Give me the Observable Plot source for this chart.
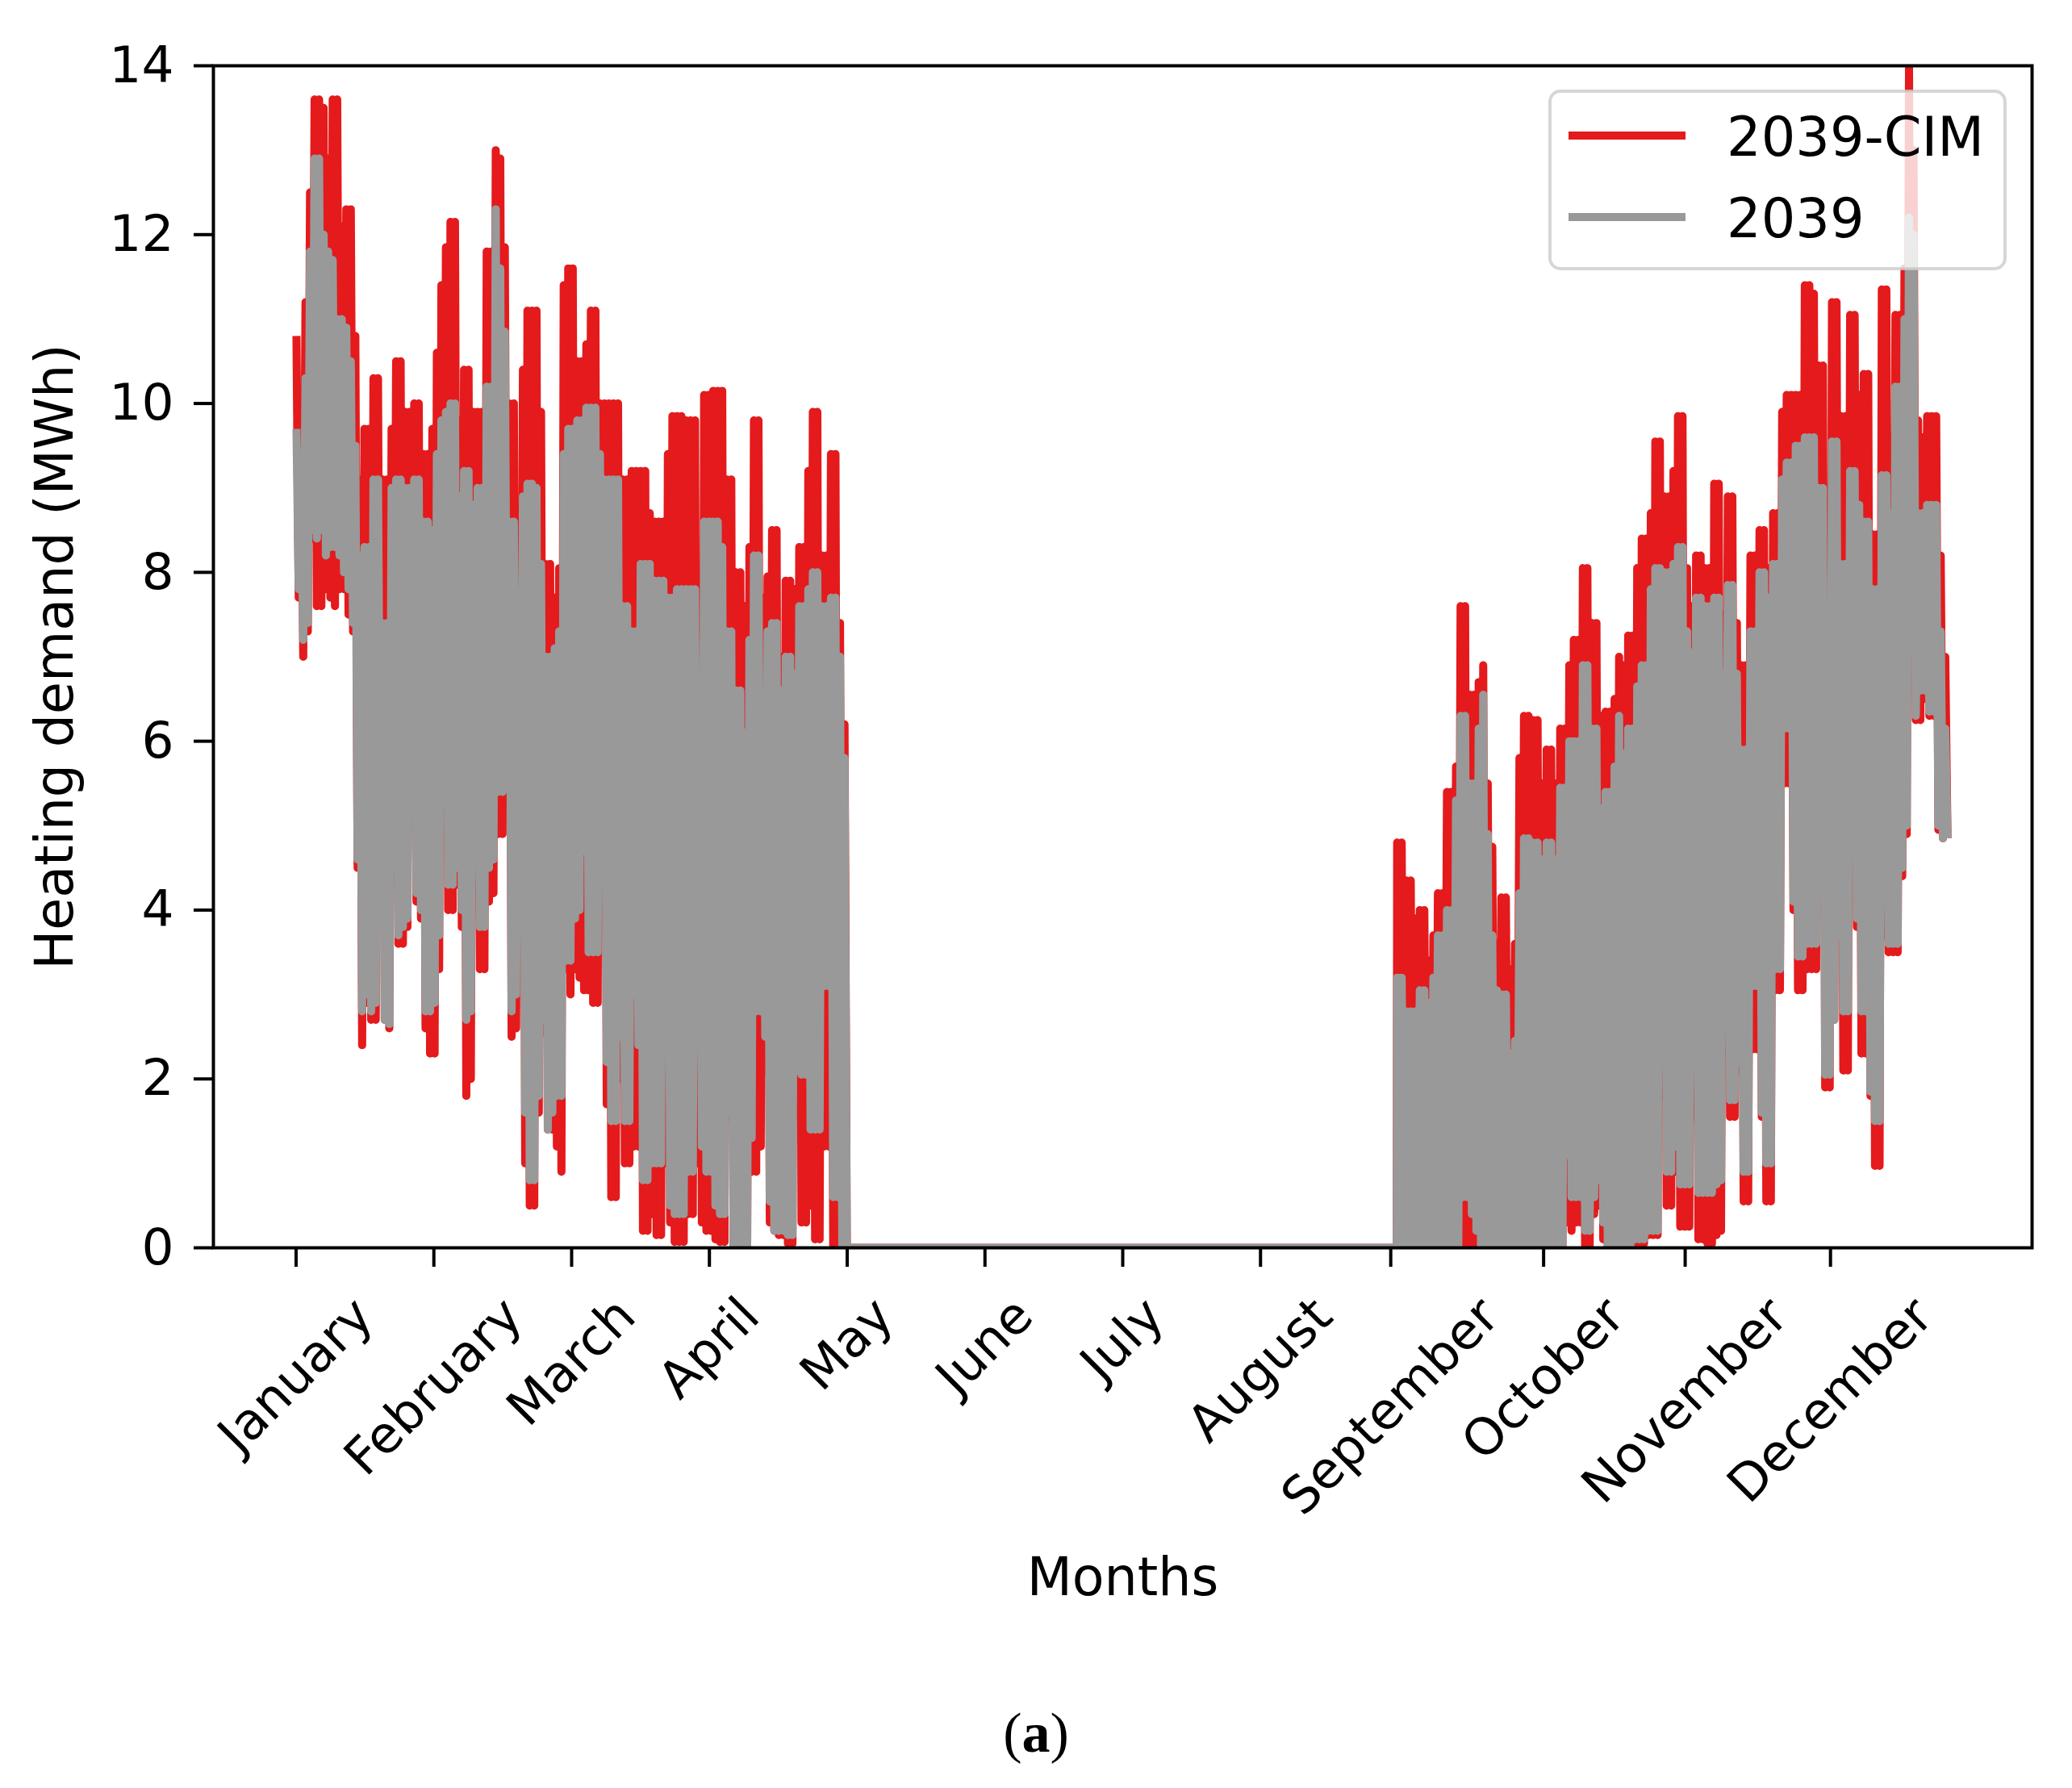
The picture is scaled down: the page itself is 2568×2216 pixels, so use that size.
<!DOCTYPE html>
<html>
<head>
<meta charset="utf-8">
<script src="https://cdn.jsdelivr.net/npm/d3@7"></script>
<script src="https://cdn.jsdelivr.net/npm/@observablehq/plot@0.6"></script>
<style>
  html, body { margin: 0; padding: 0; background: #fff; }
  #chart svg { display: block; }
  #caption { width: 2568px; height: 156px; text-align: center; font-family: "Liberation Serif", serif; font-size: 70px; line-height: 70px; padding-top: 53px; box-sizing: border-box; color: #000; }
</style>
</head>
<body>
<div id="chart"></div>
<div id="caption">(<b>a</b>)</div>
<script>
// ---- Data: daily envelope of hourly heating demand (MWh) ----
const seriesNames = ["2039-CIM", "2039"];
const seriesColors = ["#e41a1c", "#999999"];
const months = ["January","February","March","April","May","June","July","August","September","October","November","December"];
const monthTickHours = [0, 730, 1460, 2190, 2920, 3650, 4380, 5110, 5800, 6610, 7360, 8130];
const yTicks = [0, 2, 4, 6, 8, 10, 12, 14];

// Heating season 1: day 0 .. 121
const leftStartDay = 0;
const leftCimMax = [10.8,10.0,11.2,12.5,13.6,13.6,13.5,12.9,13.6,13.6,
 12.1,12.3,12.3,10.8,9.1,9.7,9.7,10.3,10.3,9.1,
 9.1,9.7,10.5,10.5,9.9,9.9,10.0,10.0,9.4,9.4,
 9.7,10.6,11.4,11.85,12.15,12.15,9.8,10.4,10.4,9.9,
 9.9,9.9,11.8,11.8,13.0,12.9,11.85,10.0,10.0,8.5,
 10.4,11.1,11.1,11.1,9.9,8.1,8.1,7.7,8.05,11.4,
 11.6,11.6,10.5,10.5,10.7,11.1,11.1,10.0,10.0,10.0,
 10.0,10.0,9.1,9.1,9.2,9.2,9.2,9.2,8.7,8.6,
 8.6,8.6,9.4,9.85,9.85,9.85,9.8,9.8,9.8,7.2,
 10.1,10.1,10.15,10.15,10.15,9.1,9.1,8.0,8.0,7.6,
 8.3,9.8,9.8,7.7,7.95,8.5,8.5,7.0,7.9,7.9,
 7.8,8.3,8.3,9.2,9.9,9.9,8.2,8.2,9.4,9.4,
 7.4,6.2];
const leftCimMin = [7.7,7.0,7.3,8.4,7.6,7.6,7.8,7.7,7.6,7.8,
 7.8,7.5,7.3,4.5,2.4,2.9,2.7,2.7,4.9,2.7,
 2.6,4.4,3.6,3.6,3.8,5.3,4.1,3.9,2.6,2.3,
 2.3,3.3,5.7,4.0,4.0,4.3,3.8,1.8,2.0,4.5,
 3.3,3.3,4.1,4.2,4.9,4.9,5.5,2.5,2.6,4.6,
 1.0,0.5,0.5,1.6,2.55,1.4,1.4,1.2,0.9,3.3,
 3.0,3.3,3.2,3.05,3.05,2.9,2.9,5.1,1.7,0.6,
 0.6,2.0,1.0,1.0,1.2,1.2,0.2,0.2,0.4,0.15,
 0.15,1.0,0.3,0.07,0.07,0.07,0.4,0.4,1.0,0.3,
 0.2,0.2,0.1,0.07,0.07,1.55,0.0,0.0,0.0,0.0,
 0.9,0.9,1.2,2.1,0.3,0.2,0.15,0.15,0.05,0.05,
 1.55,0.3,0.3,0.5,0.1,0.1,1.2,1.2,0.0,0.0,
 0.0,0.0];
const leftRefMax = [9.7,9.4,10.3,11.8,12.9,12.9,12.0,11.8,11.7,11.0,
 11.0,10.9,10.5,9.5,8.2,8.3,8.3,9.1,9.1,7.4,
 7.4,9.0,9.1,9.1,9.0,9.0,9.1,9.1,8.6,8.6,
 8.5,9.4,9.8,9.9,10.0,10.0,8.9,9.2,9.2,8.8,
 9.0,9.0,10.2,10.2,12.3,11.6,10.85,8.6,8.6,7.7,
 8.9,9.05,9.05,9.0,8.1,7.0,7.0,7.1,7.3,9.4,
 9.7,9.7,9.8,9.8,9.95,9.95,9.95,9.4,9.1,9.1,
 9.1,9.1,7.6,7.6,7.3,7.3,8.1,8.1,8.1,7.9,
 7.9,7.9,7.7,7.7,7.8,7.8,7.8,7.8,7.8,6.5,
 8.6,8.6,8.6,8.6,8.3,7.3,7.3,6.6,6.6,6.1,
 7.2,8.2,8.2,6.4,7.3,7.4,7.4,6.6,7.0,7.0,
 6.8,7.6,7.6,7.8,8.0,8.0,7.6,7.6,7.7,7.7,
 7.0,5.8];
const leftRefMin = [7.8,7.2,7.4,8.5,8.4,8.5,8.2,8.3,8.3,8.2,
 8.0,7.8,7.4,4.6,2.8,3.0,2.8,2.9,5.0,2.7,
 2.65,4.5,3.7,3.8,3.9,6.3,4.2,4.0,2.8,2.8,
 2.9,3.7,6.0,4.3,4.3,4.5,4.0,2.7,2.8,5.3,
 3.8,3.8,4.5,4.6,5.4,5.4,6.0,2.8,3.0,5.0,
 1.6,0.8,0.8,1.8,2.7,1.4,1.6,1.8,1.8,3.4,
 3.4,3.9,4.0,4.7,3.5,3.5,3.5,5.9,2.2,1.5,
 1.5,2.5,1.5,1.5,3.0,2.4,0.8,0.8,1.0,1.0,
 1.0,2.8,0.5,0.4,0.4,0.4,0.9,0.9,2.6,1.2,
 0.9,0.9,0.5,0.4,0.4,1.6,0.0,0.0,0.0,0.0,
 1.3,2.8,2.8,2.5,0.55,0.2,0.2,0.2,0.15,0.15,
 2.1,2.05,2.05,1.4,1.4,1.4,3.1,3.1,0.6,0.6,
 0.0,0.0];

// Heating season 2: day 243 .. 364
const rightStartDay = 243;
const rightCimMax = [4.8,4.8,4.35,4.35,3.9,4.0,4.0,3.4,3.7,4.2,
 4.2,5.4,5.4,5.7,7.6,7.6,6.55,6.55,6.7,6.9,
 5.5,4.75,3.6,4.15,4.15,3.3,3.6,5.8,6.3,6.3,
 6.25,6.25,5.5,5.9,5.9,5.5,6.15,6.15,6.9,7.2,
 7.2,8.05,8.05,7.4,7.4,6.3,6.35,6.35,6.5,7.0,
 6.9,7.25,7.25,8.05,8.4,8.4,8.7,9.55,9.55,8.9,
 8.9,9.2,9.85,9.85,8.05,7.6,8.2,8.2,8.05,8.05,
 9.05,9.05,7.5,8.9,8.9,7.4,6.9,6.9,8.2,8.2,
 8.5,8.5,8.05,8.7,8.7,9.9,10.1,10.1,10.1,10.1,
 11.4,11.4,11.3,10.45,10.45,7.8,11.2,11.2,9.85,9.85,
 11.05,11.05,10.1,10.35,10.35,8.45,8.45,11.35,11.35,9.6,
 11.05,11.05,11.6,14.0,13.0,9.8,9.6,9.85,9.85,9.85,
 8.2,7.0];
const rightCimMin = [0,0,0,0,0,0,0,0,0,0,
 0,0,0,0,0,0,0,0,0,0,
 0,0,0,0,0,0,0,0,0,0,
 0,0,0,0,0,0,0,0.3,0.2,0.3,
 0.3,0,0,0.4,0.5,0.1,0,0,0,0,
 0,0,0.05,0.05,0.05,0.15,0.15,0.15,1.8,0.5,
 0.5,0.9,0.25,0.25,0.25,1.55,0.1,0.1,0.05,0.05,
 0.15,0.2,2.3,1.55,1.55,2.1,0.55,0.55,2.35,2.35,
 1.55,0.55,0.55,3.05,3.05,5.5,5.5,4.0,3.05,3.05,
 3.3,3.3,3.3,5.0,1.9,1.9,2.7,3.7,2.1,2.1,
 5.6,3.8,2.3,2.3,1.8,0.97,0.97,3.7,3.5,3.5,
 3.5,4.4,4.9,7.7,6.25,6.25,6.5,6.3,6.3,4.95,
 4.85,4.85];
const rightRefMax = [3.2,3.2,2.8,2.8,2.8,3.05,3.05,2.9,3.2,3.7,
 3.7,4.0,4.0,5.3,6.3,6.3,5.5,5.5,6.15,6.55,
 4.9,3.7,3.05,3.0,3.0,2.3,2.45,4.2,4.85,4.85,
 4.8,4.8,4.6,4.8,4.8,4.6,5.45,5.45,6.0,6.0,
 6.0,6.9,6.9,6.15,6.15,5.2,5.4,5.4,5.7,6.3,
 5.85,6.15,6.15,6.65,6.9,6.9,7.8,8.05,8.05,8.0,
 8.0,8.1,8.3,8.3,7.3,7.05,7.7,7.7,7.6,7.6,
 7.7,7.7,6.8,7.85,7.85,6.8,5.9,5.9,7.3,7.3,
 8.0,8.0,7.7,8.1,8.1,9.1,9.3,9.3,9.5,9.5,
 9.6,9.6,9.6,9.0,9.0,7.5,9.55,9.55,8.1,8.1,
 9.2,9.2,8.8,8.6,8.6,7.8,7.8,9.15,9.15,8.7,
 10.2,10.2,11.0,12.2,12.0,8.7,8.7,8.8,8.8,8.8,
 7.3,6.15];
const rightRefMin = [0,0,0,0,0,0,0,0,0,0,
 0,0,0,0,0.6,0.6,0.4,0.2,0,0,
 0,0,0.05,0,0,0,0,0,0,0.05,
 0,0,0,0,0,0,0,1.1,0.6,0.6,
 0.6,0.2,0.2,0.6,0.8,0.3,0,0,0,0,
 0,0,0.1,0.1,0.1,0.2,0.2,0.2,2.55,0.9,
 0.9,1.2,0.75,0.75,0.75,3.1,0.65,0.65,0.65,0.65,
 0.75,0.8,3.7,1.75,1.75,2.2,0.9,0.9,3.1,3.1,
 1.6,1.0,1.0,3.3,3.3,6.15,6.15,4.1,3.45,3.45,
 3.6,3.6,3.6,5.3,2.05,2.05,2.7,3.7,2.8,2.8,
 5.65,3.9,2.8,2.8,1.85,1.5,1.5,4.1,3.6,3.6,
 3.6,4.5,5.0,7.8,6.3,6.6,6.6,6.35,6.35,5.0,
 4.85,4.85];

// ---- Build hourly-position tables (daily high and low per day, zero outside heating season) ----
function buildSeries(maxL, minL, maxR, minR) {
  const pts = [];
  maxL.forEach((v, i) => {
    pts.push({h: (leftStartDay + i) * 24 + 2, v});
    pts.push({h: (leftStartDay + i) * 24 + 14, v: minL[i]});
  });
  pts.push({h: (leftStartDay + maxL.length) * 24, v: 0});
  pts.push({h: rightStartDay * 24, v: 0});
  maxR.forEach((v, i) => {
    pts.push({h: (rightStartDay + i) * 24 + 2, v});
    pts.push({h: (rightStartDay + i) * 24 + 14, v: minR[i]});
  });
  return pts;
}
const cimData = buildSeries(leftCimMax, leftCimMin, rightCimMax, rightCimMin);
const refData = buildSeries(leftRefMax, leftRefMin, rightRefMax, rightRefMin);

// ---- Layout ----
const W = 2568, H = 2060;
const mL = 264, mR = 50, mT = 81, mB = H - 1546;
const yearHours = 8760, pad = yearHours * 0.05;
const tickFont = 63, labelFont = 65, legendFont = 67;

const ctx = document.createElement("canvas").getContext("2d");
ctx.font = `${tickFont}px "DejaVu Sans"`;
const lineH = tickFont * 1.164;
const monthMarks = months.map((m, i) => {
  const L = ctx.measureText(m).width;
  const dy = 48 + (L + lineH) / (2 * Math.SQRT2);
  return Plot.text([m], {x: () => monthTickHours[i], frameAnchor: "bottom", dy, rotate: -45,
    textAnchor: "middle", lineAnchor: "middle", fontSize: tickFont, fill: "black"});
});

const plot = Plot.plot({
  width: W, height: H,
  marginLeft: mL, marginRight: mR, marginTop: mT, marginBottom: mB,
  x: {domain: [-pad, yearHours + pad]},
  y: {domain: [0, 14]},
  style: {fontFamily: "DejaVu Sans", fontSize: `${tickFont}px`, background: "white", color: "black", overflow: "visible"},
  marks: [
    Plot.line(cimData, {x: "h", y: "v", stroke: seriesColors[0], strokeWidth: 10, strokeLinejoin: "round", strokeLinecap: "butt", clip: true}),
    Plot.line(refData, {x: "h", y: "v", stroke: seriesColors[1], strokeWidth: 10, strokeLinejoin: "round", strokeLinecap: "butt", clip: true}),
    Plot.frame({stroke: "black", strokeWidth: 4}),
    Plot.axisY({ticks: yTicks, tickSize: 24, tickPadding: 25, strokeWidth: 4, fontSize: tickFont, label: null, tickFormat: d => String(d)}),
    Plot.axisX({ticks: monthTickHours, tickSize: 24, strokeWidth: 4, label: null, tickFormat: () => ""}),
    ...monthMarks,
    Plot.text(["Months"], {frameAnchor: "bottom", dy: 410, fontSize: labelFont, lineAnchor: "middle", textAnchor: "middle", fill: "black"}),
    Plot.text(["Heating demand (MWh)"], {frameAnchor: "left", dx: -195, rotate: -90, fontSize: labelFont, lineAnchor: "middle", textAnchor: "middle", fill: "black"})
  ]
});

// ---- Legend inside the axes (upper right) ----
const xr = plot.scale("x").range, yr = plot.scale("y").range;
const frameRight = Math.max(...xr), frameTop = Math.min(...yr);
const lg = d3.select(plot).append("g").attr("font-family", "DejaVu Sans").attr("text-anchor", "start");
const boxW = 564, boxH = 220;
const bx = frameRight - 33 - boxW, by = frameTop + 32;
lg.append("rect").attr("x", bx).attr("y", by).attr("width", boxW).attr("height", boxH)
  .attr("rx", 13).attr("fill", "white").attr("fill-opacity", 0.8)
  .attr("stroke", "#cccccc").attr("stroke-opacity", 0.8).attr("stroke-width", 4);
seriesNames.forEach((name, i) => {
  const cy = by + 55 + i * 101;
  lg.append("line").attr("x1", bx + 23).attr("x2", bx + 168).attr("y1", cy).attr("y2", cy)
    .attr("stroke", seriesColors[i]).attr("stroke-width", 10);
  lg.append("text").attr("x", bx + 219).attr("y", cy + 25).attr("font-size", legendFont)
    .attr("text-anchor", "start").attr("fill", "black").text(name);
});

document.getElementById("chart").appendChild(plot);
</script>
</body>
</html>
